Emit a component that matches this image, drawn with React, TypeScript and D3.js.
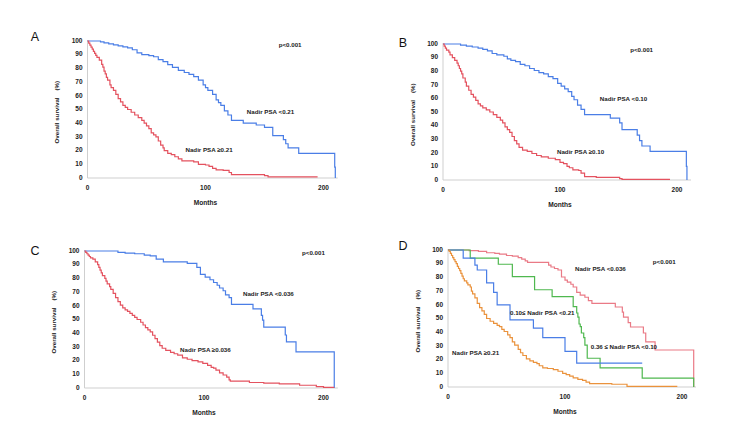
import React from 'react';
import * as d3 from 'd3';

type Pt = [number, number];

// Kaplan-Meier step points: [months, overall survival %]
const aLow: Pt[] = [[0,100],[11,99.3],[14,98.6],[18,97.9],[22,97.2],[26,96.4],[30,95.7],[34,95],[38,93.6],[42,91.4],[46,90],[52,89.3],[56,88.5],[60,86.4],[64,85],[68,82.8],[72,80.7],[77,78.5],[82,77],[86,75.6],[90,74],[94,71.5],[98,68],[100,66],[102,64],[106,61],[109,57],[111,55],[113,53],[116,49],[119,46],[122,42],[132,40],[143,38.7],[150,37],[157,31],[166,28],[168,25],[170,22],[179,18],[209.5,8],[210,0]];
const aHigh: Pt[] = [[0,100],[1,98.5],[2,97],[3,95.5],[4,94],[5,92.5],[6,91],[7,89.5],[8,88],[10,86],[12,83],[13,81],[14,78],[15,76],[16,73.5],[17,71.5],[19,68],[20,66],[22,64],[24,61],[26,58],[28,55.5],[30,53],[32,51.5],[34,50],[37,48],[40,46],[43,44],[46,42],[48,40],[50,38],[52,36],[54,33],[56,31.5],[58,30],[60,27],[62,24],[64,22],[65,20],[68,18],[71,17],[74,15.5],[77,14],[80,12.5],[90,11.8],[94,10],[100,9.5],[103,8.5],[106,7],[109,6],[115,5.5],[120,4],[122,2.5],[150,1.8],[153,0.8],[195,0.8]];

const bLow: Pt[] = [[0,100],[15,99.2],[20,98.5],[25,97.8],[30,97],[34,96],[38,95],[42,93],[46,92],[52,91],[55,89],[58,88],[62,87],[66,85],[70,84],[74,82],[78,80.5],[82,79],[86,78],[90,76],[94,74.5],[98,71],[101,69],[104,67],[107,65],[110,61.5],[112,59],[115,55],[118,52],[121,48],[143,45.5],[151,42],[153,37],[166,33],[168,29],[170,25],[177,21],[208,10],[208.5,0]];
const bHigh: Pt[] = [[0,100],[1,98.5],[2,97],[3,95.5],[5,94],[6,92],[8,90],[10,88],[12,86],[13,84],[14,82],[15,80],[16,78],[17,75],[19,72],[20,69],[22,66],[24,63],[26,61],[28,58.5],[30,56],[32,54.5],[34,53],[37,51.5],[40,50],[43,48],[46,46],[49,44],[51,42],[53,39],[55,37],[57,35],[59,32],[61,29],[63,26.5],[65,24],[68,22],[72,21],[76,19.5],[80,18],[84,17],[90,16],[96,15],[100,13],[103,12],[106,10],[108,9],[111,7.5],[116,7],[118,5],[121,2.5],[131,2],[151,1],[153,0.4],[194,0.4]];

const cLow: Pt[] = [[0,100],[28,99],[34,98.5],[42,98],[50,97],[55,96.5],[60,94],[66,92],[86,91],[94,88],[97,83],[101,81],[105,79],[108,77],[111,75],[113,73],[116,71],[118,68],[121,66],[123,61],[141,57.7],[148,53],[149,49.6],[150,44.5],[168,38.7],[169,33.6],[177,26.3],[209,0]];
const cHigh: Pt[] = [[0,100],[1,99],[2,98],[3,97],[4,96],[5,95],[7,94],[9,92],[11,90],[12,88],[13,86],[14,84],[15,82],[17,80],[18,78],[19,76],[21,74],[22,72],[24,69],[26,66],[28,63],[30,60.5],[32,58.5],[34,57],[36,56],[38,54.5],[40,53],[42,51.5],[44,50],[47,48],[49,46],[51,44],[53,42.5],[55,41],[57,38.5],[59,36],[61,33.5],[63,31],[65,29],[68,27.5],[72,26],[75,25],[78,24],[82,22],[86,21],[90,20],[95,19],[99,18],[103,16.5],[106,15],[108,14.5],[110,13],[113,11],[116,9.5],[119,8],[121,6],[122,5],[138,4],[150,3.5],[163,3],[180,2],[194,1],[200,0.5],[209,0.5]];

const dLowest: Pt[] = [[0,100],[18,99.5],[26,99],[33,98],[40,97.5],[44,97],[50,96],[55,95.5],[60,94.5],[63,93.4],[66,92],[68,91],[86,89],[88,87.6],[91,86.5],[94,85.4],[97,80.3],[100,78],[102,76.6],[105,75],[107,73],[110,69],[113,67],[117,65.5],[120,63],[123,61],[143,58.4],[149,54.7],[150,51],[154,47],[156,43.8],[167,39.4],[169,33],[177,27],[210,0]];
const dLow: Pt[] = [[0,100],[19,94],[43,89.6],[55,80.5],[74,71],[89,66],[107,58.6],[110,54],[111,51],[112,46],[113,44],[114,39.4],[116,36],[117,30.6],[119,21],[130,14],[166,6.5],[210,0]];
const dMid: Pt[] = [[0,100],[13,94],[23,89],[25,85.4],[33,76],[39,69],[42,60],[53,49],[73,43],[81,36],[100,26],[110,17.5],[166,17.5]];
const dHigh: Pt[] = [[0,100],[1,99],[2,97.5],[3,96],[4,94.5],[5,93],[6,91.5],[7,90],[8,88],[9,86.5],[10,85],[11,83],[12,81],[13,79],[14,77.5],[16,76],[17,74.5],[19,73],[20,70],[21,68],[23,65],[25,61],[27,58],[29,55.5],[31,53],[33,50],[36,48],[39,46.5],[42,45],[44,44],[46,42],[48,40.5],[51,38],[53,36],[55,33],[57,30.5],[60,27.5],[62,25],[64,23],[67,20.6],[70,19],[73,18],[76,17],[78,15.5],[81,14],[85,13.5],[90,12.7],[94,11.5],[98,10],[101,9],[104,8],[107,6.6],[111,5.5],[115,4.8],[118,3.5],[121,2.4],[140,2],[151,2],[153,0.5],[196,0.5]];

const yTicks = [0, 10, 20, 30, 40, 50, 60, 70, 80, 90, 100];
const xTicks = [0, 100, 200];

const BLUE = '#4a7ee6';
const RED = '#e4525f';
const PINK = '#ea7a86';
const GREEN = '#4fb84f';
const ORANGE = '#ea923c';
const FONT = '"Liberation Sans", Arial, sans-serif';

interface Label { text: string; m: number; v: number; }
interface Panel {
  letter: string;
  letterPos: [number, number];
  x: [number, number]; // pixel positions of 0 and 200 months
  y: [number, number]; // pixel positions of 0% and 100%
  series: { data: Pt[]; color: string }[];
  labels: Label[];
}

const panels: Panel[] = [
  {
    letter: 'A', letterPos: [35, 38], x: [87.5, 323.5], y: [178, 41],
    series: [{ data: aLow, color: BLUE }, { data: aHigh, color: RED }],
    labels: [
      { text: 'p<0.001', m: 162, v: 97 },
      { text: 'Nadir PSA <0.21', m: 135, v: 48 },
      { text: 'Nadir PSA \u22650.21', m: 83, v: 20.4 },
    ],
  },
  {
    letter: 'B', letterPos: [403, 44], x: [443, 677], y: [180, 44],
    series: [{ data: bLow, color: BLUE }, { data: bHigh, color: RED }],
    labels: [
      { text: 'p<0.001', m: 160, v: 95 },
      { text: 'Nadir PSA <0.10', m: 134, v: 59.5 },
      { text: 'Nadir PSA \u22650.10', m: 97.4, v: 20.6 },
    ],
  },
  {
    letter: 'C', letterPos: [35, 252], x: [84.5, 323.5], y: [388, 251],
    series: [{ data: cLow, color: BLUE }, { data: cHigh, color: RED }],
    labels: [
      { text: 'p<0.001', m: 182, v: 98.5 },
      { text: 'Nadir PSA <0.036', m: 132.6, v: 68 },
      { text: 'Nadir PSA \u22650.036', m: 80, v: 27.7 },
    ],
  },
  {
    letter: 'D', letterPos: [403, 247], x: [448, 682], y: [387, 250],
    series: [
      { data: dLowest, color: PINK },
      { data: dLow, color: GREEN },
      { data: dMid, color: BLUE },
      { data: dHigh, color: ORANGE },
    ],
    labels: [
      { text: 'p<0.001', m: 175, v: 91 },
      { text: 'Nadir PSA <0.036', m: 108.5, v: 86 },
      { text: '0.10\u2264 Nadir PSA <0.21', m: 53, v: 54 },
      { text: '0.36 \u2264 Nadir PSA <0.10', m: 122, v: 29.2 },
      { text: 'Nadir PSA \u22650.21', m: 3.4, v: 24.8 },
    ],
  },
];

const KMPanel: React.FC<{ p: Panel }> = ({ p }) => {
  const x = d3.scaleLinear().domain([0, 200]).range(p.x);
  const y = d3.scaleLinear().domain([0, 100]).range(p.y);
  const line = d3.line<Pt>()
    .x(d => x(d[0]))
    .y(d => y(d[1]))
    .curve(d3.curveStepAfter);

  const x0 = x(0);
  const y0 = y(0);
  const titleY = y(48);

  return (
    <g>
      <text x={p.letterPos[0]} y={p.letterPos[1]} fontSize={12.5} fontFamily={FONT}
        textAnchor="middle" dominantBaseline="middle" fill="#111">{p.letter}</text>

      {/* axes */}
      <line x1={x0} x2={x0} y1={y(100) - 1} y2={y0} stroke="#cfcfcf" strokeWidth={1} />
      <line x1={x0} x2={x(212)} y1={y0} y2={y0} stroke="#cfcfcf" strokeWidth={1} />

      {yTicks.map(t => (
        <text key={'y' + t} x={x0 - 5} y={y(t)} fontSize={6.5} fontWeight="bold"
          fontFamily={FONT} textAnchor="end" dominantBaseline="middle" fill="#222">{t}</text>
      ))}
      {xTicks.map(t => (
        <text key={'x' + t} x={x(t)} y={y0 + 10} fontSize={6.5} fontWeight="bold"
          fontFamily={FONT} textAnchor="middle" dominantBaseline="middle" fill="#222">{t}</text>
      ))}

      <text x={x(100)} y={y0 + 25} fontSize={6.6} fontWeight="bold" fontFamily={FONT}
        textAnchor="middle" dominantBaseline="middle" fill="#222">Months</text>

      <text transform={`translate(${x0 - 30},${titleY}) rotate(-90)`} fontSize={6.2}
        fontWeight="bold" fontFamily={FONT} textAnchor="middle" dominantBaseline="middle"
        fill="#222" style={{ whiteSpace: 'pre' }}>{'Overall survival    (%)'}</text>

      {p.series.map((s, i) => (
        <path key={i} d={line(s.data) ?? ''} fill="none" stroke={s.color} strokeWidth={1.2} />
      ))}

      {p.labels.map((l, i) => (
        <text key={'l' + i} x={x(l.m)} y={y(l.v)} fontSize={6.2} fontWeight="bold"
          fontFamily={FONT} dominantBaseline="middle" fill="#222"
          style={{ whiteSpace: 'pre' }}>{l.text}</text>
      ))}
    </g>
  );
};

export default function App() {
  return (
    <svg width={750} height={422} viewBox="0 0 750 422"
      style={{ position: 'absolute', left: 0, top: 0, background: '#fff' }}>
      <rect width={750} height={422} fill="#fff" />
      {panels.map(p => <KMPanel key={p.letter} p={p} />)}
    </svg>
  );
}
